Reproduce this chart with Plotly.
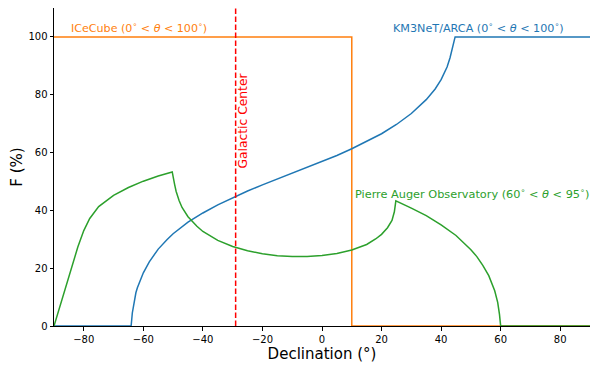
import plotly.graph_objects as go

# ---------------- data ----------------
dec_icecube = [-90, 10, 10, 90]
f_icecube = [100, 100, 0, 0]

dec_km3 = [-90, -64.1, -63.7, -63.3, -63, -62.5, -62, -61, -60, -58, -55, -52, -50, -45, -40, -35,
           -30, -25, -20, -15, -10, -5, 0, 5, 10, 15, 20, 25, 30, 35, 38, 40, 42, 43,
           43.8, 44.3, 44.7, 90]
f_km3 = [0, 0, 4.5, 7.2, 9.5, 11.5, 13.2, 15.8, 18.4, 22.2, 26.6, 29.9, 31.9, 35.9, 39.1, 41.9,
         44.4, 46.7, 48.8, 50.8, 52.8, 54.9, 56.9, 59.0, 61.3, 63.8, 66.5, 69.7, 73.5,
         78.3, 82.0, 85.2, 89.6, 92.8, 96.5, 99.0, 100, 100]

dec_auger = [-90, -82, -80, -78, -75, -70, -65, -60, -55, -50.3, -49.5, -49, -48, -47,
             -45, -42, -40, -35, -30, -25, -20, -15, -10, -5, 0, 5, 10, 15, 18, 20, 22,
             23.5, 24.3, 24.8, 30, 35, 40, 45, 50, 52, 54, 56, 58, 59, 59.6, 60, 90]
f_auger = [0, 27.3, 33.0, 37.2, 41.3, 45.2, 47.9, 50.1, 51.9, 53.3, 49.0, 46.6, 43.4, 41.0,
           37.8, 34.5, 32.7, 29.6, 27.5, 26.0, 25.0, 24.3, 24.0, 24.0, 24.4, 25.1, 26.3,
           28.2, 30.1, 31.7, 34.0, 36.5, 39.5, 43.3, 40.8, 38.2, 35.0, 31.3, 26.4, 24.0,
           21.0, 17.4, 12.2, 8.2, 4.0, 0, 0]

galactic_center_dec = -29.0

x_ticks = [-80, -60, -40, -20, 0, 20, 40, 60, 80]
x_tick_labels = ["\u221280", "\u221260", "\u221240", "\u221220", "0", "20", "40", "60", "80"]
y_ticks = [0, 20, 40, 60, 80, 100]

BLUE = "#1f77b4"
ORANGE = "#ff7f0e"
GREEN = "#2ca02c"
RED = "#ff0000"
FONT = "DejaVu Sans"

fig = go.Figure()
fig.add_trace(go.Scatter(x=dec_icecube, y=f_icecube, mode="lines",
                         line=dict(color=ORANGE, width=1.5), showlegend=False))
fig.add_trace(go.Scatter(x=dec_km3, y=f_km3, mode="lines",
                         line=dict(color=BLUE, width=1.5), showlegend=False))
fig.add_trace(go.Scatter(x=dec_auger, y=f_auger, mode="lines",
                         line=dict(color=GREEN, width=1.5), showlegend=False))

fig.add_shape(type="line", xref="x", yref="paper", x0=galactic_center_dec,
              x1=galactic_center_dec, y0=0, y1=1,
              line=dict(color=RED, width=1.5, dash="5.5px,2.5px"))

fig.add_annotation(x=-26.4, y=88.5, xref="x", yref="y", text="Galactic Center",
                   textangle=-90, showarrow=False, yanchor="top",
                   font=dict(family=FONT, size=12.3, color=RED))
fig.add_annotation(x=-85.0, y=103.3, xref="x", yref="y", xanchor="left", yanchor="middle",
                   text="ICeCube (0<sup>∘</sup> < <i>θ</i> < 100<sup>∘</sup>)",
                   showarrow=False, font=dict(family=FONT, size=11.1, color=ORANGE))
fig.add_annotation(x=82.0, y=103.3, xref="x", yref="y", xanchor="right", yanchor="middle",
                   text="KM3NeT/ARCA (0<sup>∘</sup> < <i>θ</i> < 100<sup>∘</sup>)",
                   showarrow=False, font=dict(family=FONT, size=11.2, color=BLUE))
fig.add_annotation(x=10.3, y=45.7, xref="x", yref="y", xanchor="left", yanchor="middle",
                   text="Pierre Auger Observatory (60<sup>∘</sup> < <i>θ</i> < 95<sup>∘</sup>)",
                   showarrow=False, font=dict(family=FONT, size=11.3, color=GREEN))

axis_common = dict(showline=True, mirror=True, linecolor="black", linewidth=1,
                   ticks="outside", ticklen=3.5, tickwidth=1, tickcolor="black",
                   showgrid=False, zeroline=False, automargin=False,
                   tickfont=dict(family=FONT, size=10, color="black"))

fig.update_xaxes(range=[-90, 90], tickvals=x_ticks, ticktext=x_tick_labels,
                 title=dict(text="Declination (°)", font=dict(family=FONT, size=15, color="black"),
                            standoff=4),
                 **axis_common)
fig.update_yaxes(range=[0, 110], tickvals=y_ticks,
                 title=dict(text="F (%)", font=dict(family=FONT, size=15, color="black"),
                            standoff=7),
                 **axis_common)

# the page body adds an 8px offset, so the figure is sized to the remaining 590x362 area
fig.update_layout(width=590, height=362, margin=dict(l=46, r=8, t=0, b=44),
                  plot_bgcolor="white", paper_bgcolor="white",
                  font=dict(family=FONT, color="black"))

fig.write_html("out.html")
